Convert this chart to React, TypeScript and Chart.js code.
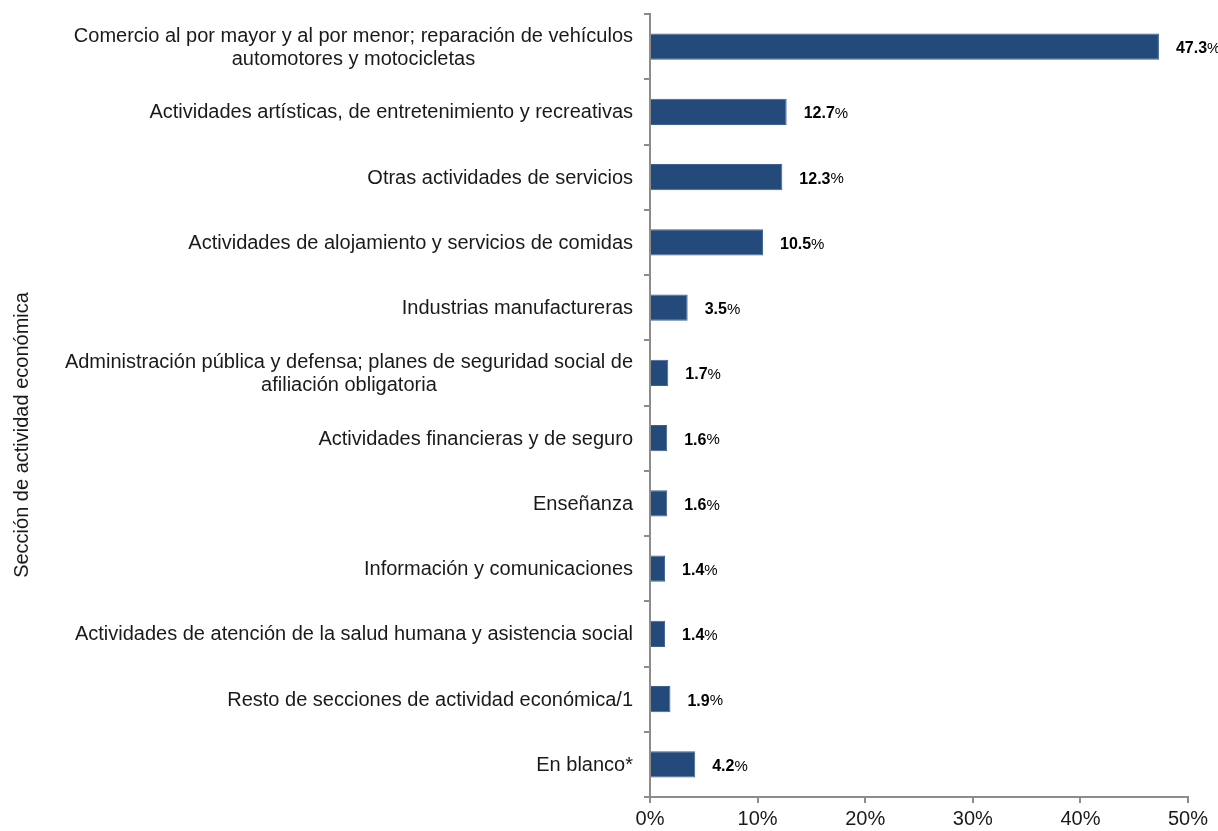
import React, { useEffect, useRef } from "react";
import { Chart, registerables } from "chart.js";

Chart.register(...registerables);

const categoryLines: string[][] = [
  ["Comercio al por mayor y al por menor; reparación de vehículos", "automotores y motocicletas"],
  ["Actividades artísticas, de entretenimiento y recreativas"],
  ["Otras actividades de servicios"],
  ["Actividades de alojamiento y servicios de comidas"],
  ["Industrias manufactureras"],
  ["Administración pública y defensa; planes de seguridad social de", "afiliación obligatoria"],
  ["Actividades financieras y de seguro"],
  ["Enseñanza"],
  ["Información y comunicaciones"],
  ["Actividades de atención de la salud humana y asistencia social"],
  ["Resto de secciones de actividad económica/1"],
  ["En blanco*"],
];
const values: number[] = [47.3, 12.7, 12.3, 10.5, 3.5, 1.7, 1.6, 1.6, 1.4, 1.4, 1.9, 4.2];
const axisTitle = "Sección de actividad económica";
const xMax = 50;
const xStep = 10;

const FONT = "'Liberation Sans', Arial, sans-serif";
const BAR_COLOR = "#244a7c";
const AXIS_COLOR = "#8c8c8c";

const labelsPlugin = {
  id: "customLabels",
  afterDraw(chart: any) {
    const ctx = chart.ctx;
    const yScale = chart.scales.y;
    const meta = chart.getDatasetMeta(0);
    ctx.save();
    ctx.fillStyle = "#1a1a1a";
    ctx.font = `20px ${FONT}`;
    ctx.textBaseline = "middle";
    const lineH = 23;
    categoryLines.forEach((lines, i) => {
      const cy = yScale.getPixelForValue(i);
      const widths = lines.map((l) => ctx.measureText(l).width);
      const blockW = Math.max(...widths);
      const right = 633;
      const centerX = right - blockW / 2;
      const startY = cy - ((lines.length - 1) * lineH) / 2;
      ctx.textAlign = "center";
      lines.forEach((l, j) => {
        ctx.fillText(l, centerX, startY + j * lineH + 1);
      });
    });
    meta.data.forEach((bar: any, i: number) => {
      const num = values[i].toFixed(1);
      const x = bar.x + 17;
      const y = bar.y + 2;
      ctx.textAlign = "left";
      ctx.fillStyle = "#000";
      ctx.font = `bold 16px ${FONT}`;
      ctx.fillText(num, x, y);
      const w = ctx.measureText(num).width;
      ctx.font = `15px ${FONT}`;
      ctx.fillText("%", x + w, y);
    });
    ctx.translate(22, 435);
    ctx.rotate(-Math.PI / 2);
    ctx.textAlign = "center";
    ctx.textBaseline = "middle";
    ctx.font = `20px ${FONT}`;
    ctx.fillStyle = "#1a1a1a";
    ctx.fillText(axisTitle, 0, 0);
    ctx.restore();
  },
};

export default function App() {
  const canvasRef = useRef<HTMLCanvasElement | null>(null);
  useEffect(() => {
    if (!canvasRef.current) return;
    const chart = new Chart(canvasRef.current, {
      type: "bar",
      data: {
        labels: categoryLines.map((l) => l.join(" ")),
        datasets: [
          {
            data: values,
            backgroundColor: BAR_COLOR,
            borderColor: "#3d6292",
            borderWidth: 1,
            barPercentage: 0.4,
            categoryPercentage: 1,
          },
        ],
      },
      options: {
        indexAxis: "y",
        animation: false,
        responsive: false,
        devicePixelRatio: 1,
        layout: { padding: { left: 0, right: 30, top: 14, bottom: 0 } },
        plugins: { legend: { display: false }, tooltip: { enabled: false } },
        scales: {
          x: {
            min: 0,
            max: xMax,
            ticks: {
              stepSize: xStep,
              callback: (v: any) => `${v}%`,
              color: "#1a1a1a",
              font: { family: FONT, size: 20 },
              padding: 4,
              maxRotation: 0,
            },
            grid: {
              drawOnChartArea: false,
              drawTicks: true,
              tickLength: 6,
              color: AXIS_COLOR,
              lineWidth: 2,
            },
            border: { color: AXIS_COLOR, width: 2 },
            afterFit: (s: any) => {
              s.height = 34;
            },
          },
          y: {
            ticks: { display: false },
            grid: {
              drawOnChartArea: false,
              drawTicks: true,
              tickLength: 6,
              offset: true,
              color: AXIS_COLOR,
              lineWidth: 2,
            },
            border: { color: AXIS_COLOR, width: 2 },
            afterFit: (s: any) => {
              s.width = 650;
            },
          },
        },
      },
      plugins: [labelsPlugin],
    });
    return () => chart.destroy();
  }, []);
  return (
    <div style={{ position: "absolute", left: 0, top: 0, width: 1218, height: 831, background: "#fff" }}>
      <canvas ref={canvasRef} width={1218} height={831} style={{ width: 1218, height: 831 }} />
    </div>
  );
}
